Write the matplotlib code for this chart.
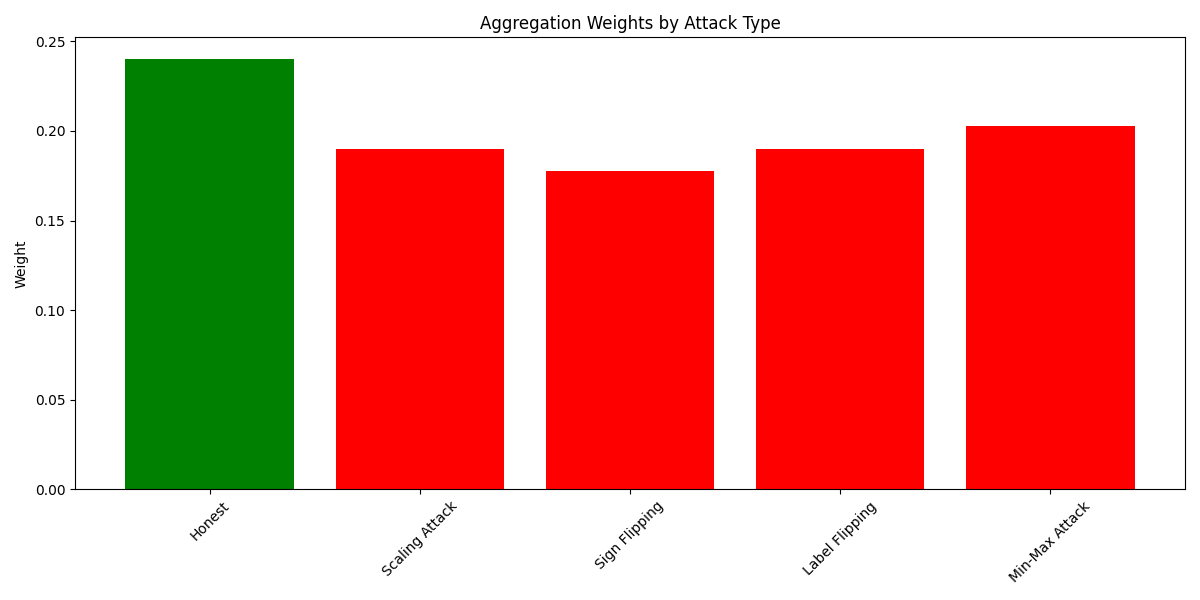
import matplotlib
matplotlib.use("Agg")
import matplotlib.pyplot as plt

categories = ["Honest", "Scaling Attack", "Sign Flipping", "Label Flipping", "Min-Max Attack"]
weights = [0.2402, 0.190, 0.1777, 0.190, 0.2028]
colors = ["green", "red", "red", "red", "red"]

fig, ax = plt.subplots(figsize=(12, 6), dpi=100)
ax.bar(categories, weights, color=colors)
ax.set_title("Aggregation Weights by Attack Type")
ax.set_ylabel("Weight")
plt.xticks(rotation=45)
plt.tight_layout()
plt.savefig("out.png")
